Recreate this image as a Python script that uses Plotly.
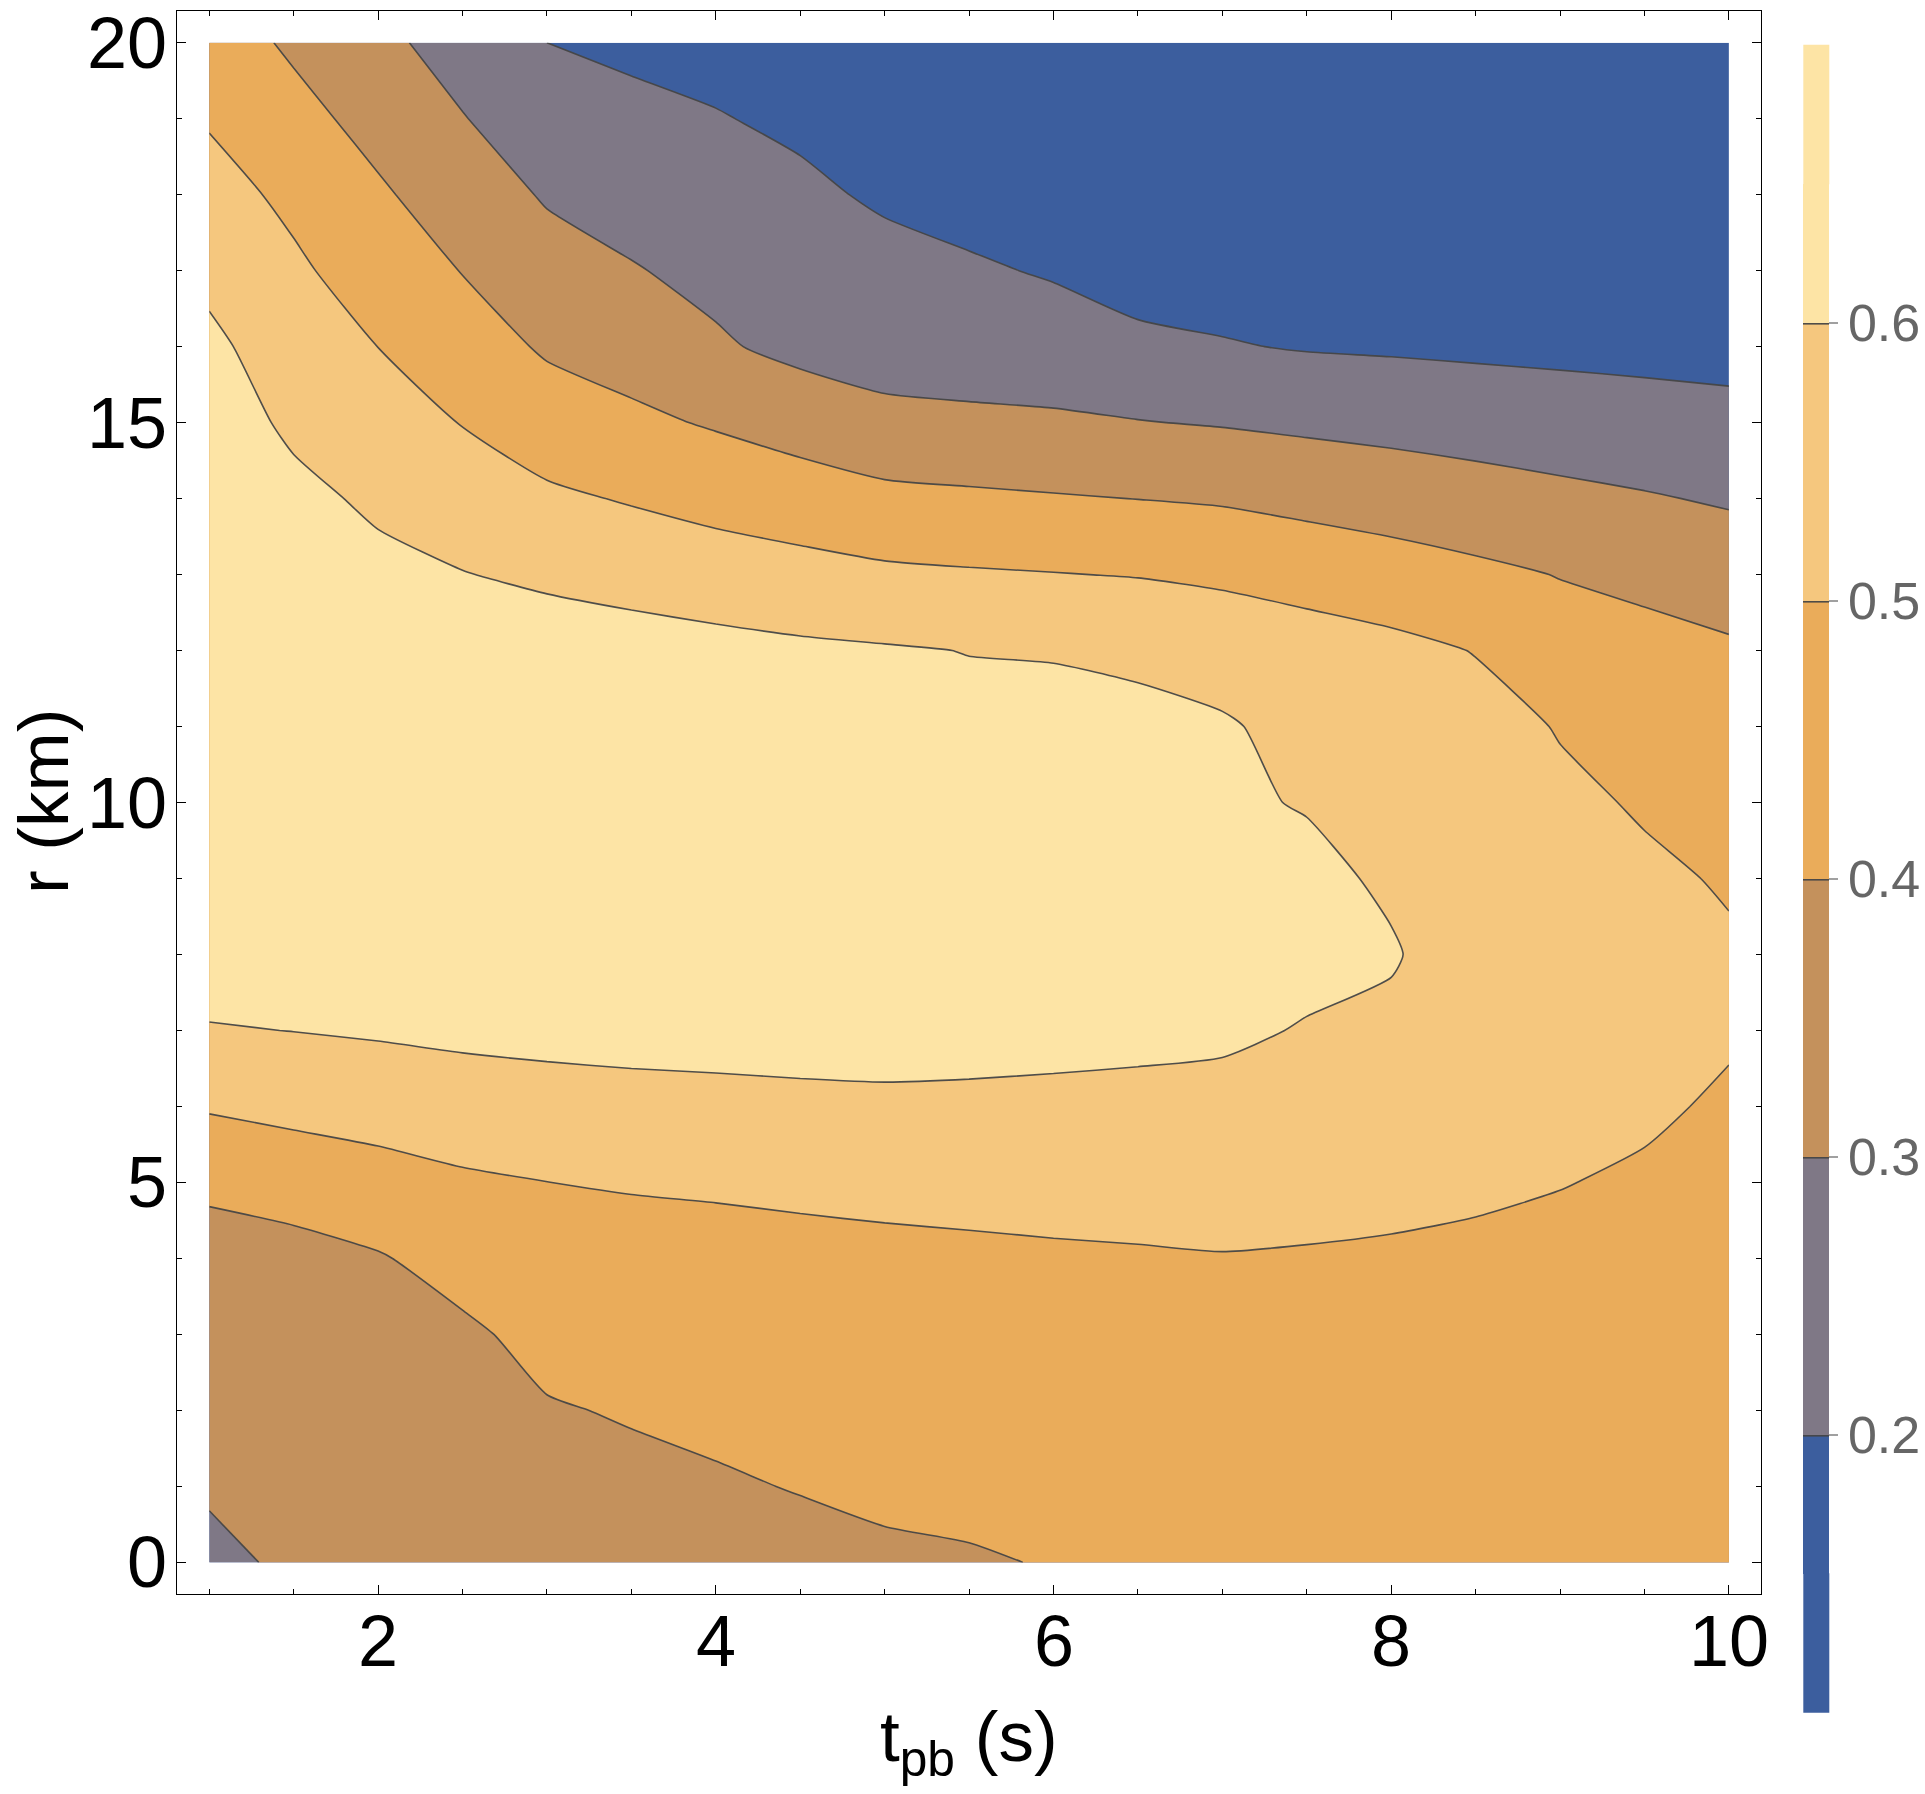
import plotly.graph_objects as go

# ---------------- data ----------------
t_pb = [1.0, 1.5, 2.0, 2.5, 3.0, 3.5, 4.0, 4.5, 5.0, 5.5,
        6.0, 6.5, 7.0, 7.5, 8.0, 8.5, 9.0, 9.5, 10.0]
r_km = [0, 1, 2, 3, 4, 5, 6, 7, 8, 9, 10,
        11, 12, 13, 14, 15, 16, 17, 18, 19, 20]

# one list per t_pb column, values for r = 0 ... 20 km
col_1_0 = [0.283, 0.308, 0.333, 0.358, 0.385, 0.407, 0.510, 0.595, 0.640, 0.665, 0.680, 0.685, 0.685, 0.680, 0.670, 0.650, 0.620, 0.577, 0.534, 0.492, 0.449]
col_1_5 = [0.312, 0.326, 0.348, 0.369, 0.390, 0.413, 0.539, 0.601, 0.630, 0.650, 0.660, 0.665, 0.660, 0.650, 0.625, 0.582, 0.550, 0.515, 0.480, 0.430, 0.385]
col_2_0 = [0.316, 0.335, 0.355, 0.374, 0.393, 0.465, 0.538, 0.610, 0.635, 0.650, 0.655, 0.655, 0.645, 0.625, 0.583, 0.541, 0.4995, 0.457, 0.413, 0.368, 0.323]
col_2_5 = [0.327, 0.349, 0.367, 0.384, 0.434, 0.487, 0.552, 0.620, 0.635, 0.645, 0.648, 0.645, 0.630, 0.603, 0.550, 0.497, 0.447, 0.397, 0.351, 0.304, 0.261]
col_3_0 = [0.338, 0.365, 0.393, 0.427, 0.463, 0.4995, 0.564, 0.625, 0.638, 0.645, 0.648, 0.650, 0.650, 0.583, 0.516, 0.450, 0.388, 0.339, 0.291, 0.246, 0.200]
col_3_5 = [0.349, 0.378, 0.407, 0.440, 0.468, 0.506, 0.569, 0.631, 0.634, 0.638, 0.640, 0.640, 0.640, 0.565, 0.493, 0.419, 0.360, 0.306, 0.263, 0.223, 0.182]
col_4_0 = [0.360, 0.390, 0.420, 0.449, 0.470, 0.511, 0.574, 0.633, 0.632, 0.632, 0.633, 0.633, 0.628, 0.548, 0.469, 0.391, 0.312, 0.275, 0.240, 0.205, 0.169]
col_4_5 = [0.371, 0.404, 0.430, 0.457, 0.474, 0.518, 0.579, 0.636, 0.630, 0.628, 0.628, 0.627, 0.616, 0.533, 0.447, 0.360, 0.275, 0.254, 0.218, 0.183, 0.148]
col_5_0 = [0.382, 0.420, 0.438, 0.464, 0.478, 0.525, 0.583, 0.636, 0.628, 0.625, 0.624, 0.622, 0.608, 0.517, 0.423, 0.331, 0.250, 0.230, 0.187, 0.165, 0.145]
col_5_5 = [0.393, 0.420, 0.443, 0.467, 0.484, 0.527, 0.582, 0.632, 0.625, 0.622, 0.620, 0.625, 0.598, 0.509, 0.415, 0.321, 0.245, 0.213, 0.163, 0.150, 0.140]
col_6_0 = [0.404, 0.426, 0.449, 0.471, 0.488, 0.533, 0.580, 0.626, 0.622, 0.618, 0.615, 0.620, 0.596, 0.503, 0.407, 0.312, 0.249, 0.191, 0.165, 0.148, 0.135]
col_6_5 = [0.415, 0.435, 0.456, 0.476, 0.492, 0.535, 0.578, 0.620, 0.618, 0.615, 0.612, 0.615, 0.589, 0.496, 0.399, 0.303, 0.227, 0.151, 0.140, 0.135, 0.130]
col_7_0 = [0.425, 0.443, 0.462, 0.480, 0.4965, 0.5355, 0.5745, 0.614, 0.613, 0.612, 0.615, 0.612, 0.552, 0.4865, 0.390, 0.294, 0.206, 0.160, 0.145, 0.135, 0.125]
col_7_5 = [0.435, 0.4505, 0.466, 0.4815, 0.494, 0.527, 0.561, 0.595, 0.622, 0.625, 0.594, 0.565, 0.545, 0.463, 0.373, 0.282, 0.194, 0.170, 0.150, 0.135, 0.125]
col_8_0 = [0.445, 0.4576, 0.4703, 0.483, 0.491, 0.519, 0.549, 0.579, 0.609, 0.585, 0.559, 0.540, 0.525, 0.442, 0.357, 0.271, 0.189, 0.170, 0.152, 0.138, 0.128]
col_8_5 = [0.452, 0.4625, 0.473, 0.4835, 0.488, 0.510, 0.525, 0.538, 0.545, 0.546, 0.540, 0.530, 0.497, 0.420, 0.339, 0.260, 0.183, 0.165, 0.150, 0.137, 0.127]
col_9_0 = [0.458, 0.4666, 0.4752, 0.4838, 0.487, 0.5015, 0.515, 0.527, 0.532, 0.528, 0.515, 0.4955, 0.444, 0.397, 0.322, 0.249, 0.178, 0.160, 0.147, 0.135, 0.126]
col_9_5 = [0.462, 0.469, 0.476, 0.483, 0.488, 0.494, 0.507, 0.518, 0.520, 0.512, 0.493, 0.454, 0.435, 0.374, 0.307, 0.240, 0.1725, 0.155, 0.143, 0.132, 0.124]
col_10_0 = [0.465, 0.470, 0.476, 0.481, 0.486, 0.4915, 0.494, 0.505, 0.508, 0.494, 0.461, 0.433, 0.413, 0.352, 0.291, 0.2295, 0.168, 0.150, 0.138, 0.128, 0.120]

contour_levels = [0.2, 0.3, 0.4, 0.5, 0.6]
colorbar_labels = ["0.2", "0.3", "0.4", "0.5", "0.6"]
colorbar_range = [0.1, 0.7]
x_tick_vals = [2, 4, 6, 8, 10]
x_tick_text = ["2", "4", "6", "8", "10"]
y_tick_vals = [0, 5, 10, 15, 20]
y_tick_text = ["0", "5", "10", "15", "20"]
x_title = "t<sub>pb</sub> (s)"
y_title = "r (km)"

columns = [col_1_0, col_1_5, col_2_0, col_2_5, col_3_0, col_3_5, col_4_0, col_4_5,
           col_5_0, col_5_5, col_6_0, col_6_5, col_7_0, col_7_5, col_8_0, col_8_5,
           col_9_0, col_9_5, col_10_0]
z = [[col[j] for col in columns] for j in range(len(r_km))]

# ---------------- styling ----------------
band_colors = ["#3c5e9e", "#7f7886", "#c4915c", "#eaac5a", "#f5c77e", "#fde4a5"]
n = len(band_colors)
colorscale = [[i / (n - 1), c] for i, c in enumerate(band_colors)]

FONT = "Liberation Sans, Arial, Helvetica, sans-serif"
W, H = 1925, 1794
ML, MR, MT, MB = 177, 164, 11, 200
PW, PH = W - ML - MR, H - MT - MB


def px_x(X):
    return (X - ML) / PW


def px_y(Y):
    return (H - MB - Y) / PH


# colour-bar geometry (pixels): full bar spans 0.1 .. 0.7
CB_X0, CB_W = 1803.3, 26
CB_TOP, CB_BOT = 44.7, 1712.7
step_px = (CB_BOT - CB_TOP) / ((colorbar_range[1] - colorbar_range[0]) / 0.1)
half = step_px / 2.0          # plotly's bar covers 0.15 .. 0.65 only
cb_top_inner = CB_TOP + half
cb_bot_inner = CB_BOT - half

fig = go.Figure(go.Contour(
    x=t_pb, y=r_km, z=z,
    autocontour=False,
    contours=dict(start=contour_levels[0], end=contour_levels[-1],
                  size=0.1, coloring="fill", showlines=True),
    line=dict(color="rgba(70,70,70,0.95)", width=1.6, smoothing=0.6),
    colorscale=colorscale,
    hoverinfo="skip",
    colorbar=dict(
        xref="paper", yref="paper",
        x=px_x(CB_X0), xanchor="left",
        y=px_y(cb_top_inner), yanchor="top",
        lenmode="pixels", len=cb_bot_inner - cb_top_inner,
        thicknessmode="pixels", thickness=CB_W,
        xpad=0, ypad=0,
        outlinewidth=0,
        tickmode="array", tickvals=contour_levels, ticktext=colorbar_labels,
        ticks="outside", ticklen=9, tickwidth=1.5, tickcolor="#a0a0a0",
        tickfont=dict(family=FONT, size=52, color="#666666"),
    ),
))

# complete the two end bands of the colour bar (0.1-0.15 and 0.65-0.7)
fig.add_shape(type="rect", xref="paper", yref="paper",
              x0=px_x(CB_X0), x1=px_x(CB_X0 + CB_W),
              y0=px_y(CB_TOP), y1=px_y(cb_top_inner + 0.5),
              fillcolor=band_colors[-1], line=dict(width=0), layer="above")
fig.add_shape(type="rect", xref="paper", yref="paper",
              x0=px_x(CB_X0), x1=px_x(CB_X0 + CB_W),
              y0=px_y(cb_bot_inner - 0.5), y1=px_y(CB_BOT),
              fillcolor=band_colors[0], line=dict(width=0), layer="above")

# tick labels and axis titles as text annotations (exact placement)
TICK_FONT = dict(family=FONT, size=72, color="black")
for v, t in zip(x_tick_vals, x_tick_text):
    fig.add_annotation(x=v, xref="x", y=px_y(1641), yref="paper",
                       text=t, showarrow=False, xanchor="center", yanchor="middle",
                       font=TICK_FONT)
for v, t in zip(y_tick_vals, y_tick_text):
    fig.add_annotation(x=px_x(169), xref="paper", y=v, yref="y",
                       text=t, showarrow=False, xanchor="right", yanchor="middle",
                       font=TICK_FONT)
fig.add_annotation(x=px_x(969), xref="paper", y=px_y(1695), yref="paper",
                   text=x_title, showarrow=False, xanchor="center", yanchor="top",
                   font=dict(family=FONT, size=71, color="black"))
fig.add_annotation(x=px_x(44), xref="paper", y=px_y(802), yref="paper",
                   text=y_title, showarrow=False, xanchor="center", yanchor="middle",
                   textangle=-90, font=dict(family=FONT, size=71, color="black"))

axis_common = dict(
    showgrid=False, zeroline=False, showticklabels=False,
    showline=True, linecolor="black", linewidth=1.4, mirror="ticks",
    ticks="inside", ticklen=9, tickwidth=1.4, tickcolor="black",
)

fig.update_layout(
    width=W, height=H,
    margin=dict(l=ML, r=MR, t=MT, b=MB, autoexpand=False),
    paper_bgcolor="white", plot_bgcolor="white",
    font=dict(family=FONT, color="black"),
    xaxis=dict(
        axis_common,
        range=[0.809, 10.19],
        tickmode="array", tickvals=x_tick_vals,
        minor=dict(ticks="inside", ticklen=4.5, tickwidth=1.2, tickcolor="black",
                   dtick=0.5, tick0=0, showgrid=False),
    ),
    yaxis=dict(
        axis_common,
        range=[-0.416, 20.417],
        tickmode="array", tickvals=y_tick_vals,
        minor=dict(ticks="inside", ticklen=4.5, tickwidth=1.2, tickcolor="black",
                   dtick=1, tick0=0, showgrid=False),
    ),
)

fig.write_html("out.html")
